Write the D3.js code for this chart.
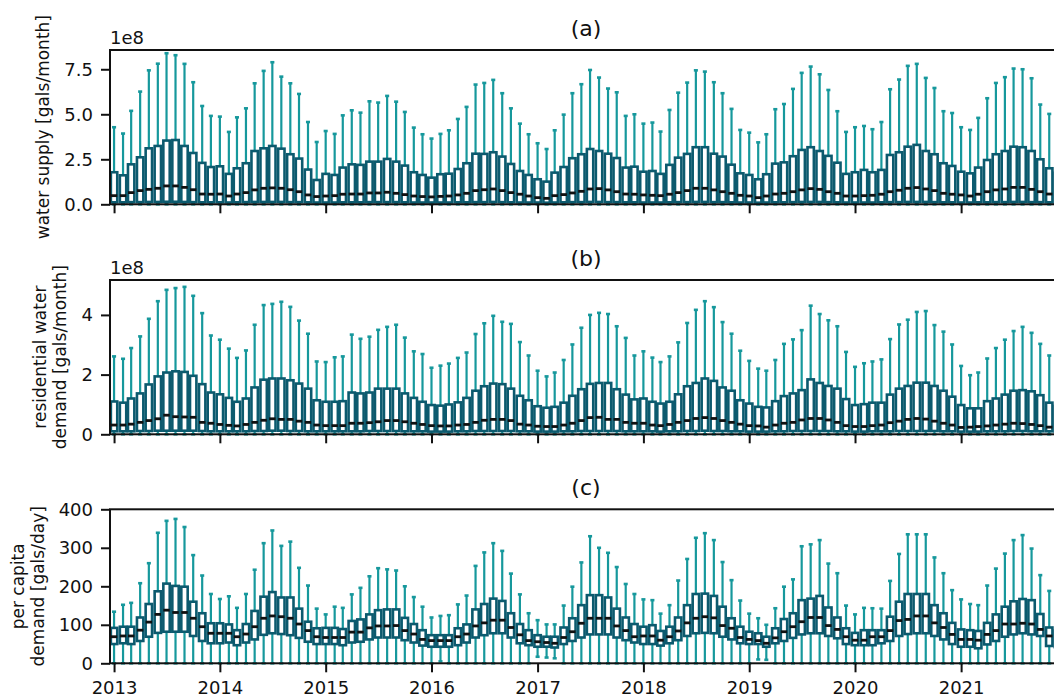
<!DOCTYPE html>
<html><head><meta charset="utf-8">
<script src="https://cdn.jsdelivr.net/npm/d3@7"></script>
<style>body{margin:0;background:#fff;} svg{display:block;} text{font-family:"DejaVu Sans",sans-serif;}</style>
</head><body>
<svg id="chart" width="1054" height="697"></svg>
<script>
// ---------- data ----------
const firstYear = 2013;
const monthCount = 108;
const yearTicks = [2013, 2014, 2015, 2016, 2017, 2018, 2019, 2020, 2021];

// (a) water supply, units of 1e8 gals/month
const supplyHi = [4.28,3.93,5.19,6.26,7.44,7.81,8.39,8.28,7.80,6.78,5.46,4.91,
 4.87,4.02,4.83,5.33,6.72,7.41,7.89,7.09,6.72,6.13,4.57,3.46,
 4.07,3.91,4.94,5.22,5.09,5.72,5.65,6.02,5.70,5.13,4.26,3.89,
 3.65,3.91,4.11,4.74,5.41,6.65,6.74,6.91,6.17,5.33,4.48,3.89,
 3.39,3.07,4.11,4.98,6.17,6.67,7.46,7.04,6.43,6.22,4.91,5.00,
 4.48,4.54,4.04,5.24,6.20,6.76,7.44,7.37,6.78,6.17,5.30,4.13,
 3.98,3.44,3.89,5.28,5.57,6.41,7.30,7.65,7.22,6.35,5.17,4.02,
 4.28,4.35,4.17,4.57,6.39,6.93,7.69,7.80,7.02,6.46,5.17,5.07,
 4.28,4.13,4.80,5.89,6.74,7.06,7.54,7.50,7.00,5.54,5.02,4.30];
const supplyQ3 = [1.78,1.61,2.22,2.61,3.11,3.24,3.54,3.57,3.24,2.85,2.30,2.07,
 2.11,1.69,2.00,2.28,2.96,3.11,3.24,3.09,2.78,2.54,1.93,1.35,
 1.69,1.63,2.04,2.22,2.19,2.37,2.37,2.52,2.37,2.15,1.78,1.63,
 1.48,1.67,1.70,1.96,2.28,2.81,2.80,2.89,2.65,2.24,1.85,1.63,
 1.39,1.26,1.76,2.07,2.56,2.78,3.07,2.96,2.81,2.57,2.04,2.09,
 1.81,1.85,1.69,2.19,2.59,2.80,3.17,3.17,2.81,2.65,2.20,1.72,
 1.63,1.39,1.67,2.26,2.33,2.67,3.02,3.17,2.96,2.69,2.31,1.69,
 1.78,1.91,1.78,1.91,2.74,2.89,3.20,3.30,2.96,2.78,2.28,2.13,
 1.81,1.72,2.04,2.46,2.78,2.96,3.20,3.17,2.96,2.50,2.00,1.75];
const supplyMed = [0.48,0.48,0.65,0.76,0.83,0.89,1.02,1.02,0.94,0.81,0.57,0.56,
 0.57,0.46,0.57,0.65,0.80,0.89,0.91,0.89,0.81,0.70,0.52,0.43,
 0.46,0.48,0.56,0.57,0.57,0.63,0.63,0.67,0.61,0.54,0.46,0.43,
 0.41,0.44,0.46,0.52,0.61,0.76,0.81,0.85,0.76,0.65,0.56,0.46,
 0.37,0.33,0.48,0.54,0.63,0.72,0.85,0.87,0.80,0.70,0.57,0.56,
 0.52,0.50,0.48,0.56,0.65,0.76,0.89,0.89,0.80,0.70,0.61,0.50,
 0.46,0.37,0.46,0.57,0.61,0.70,0.80,0.87,0.83,0.70,0.61,0.46,
 0.46,0.48,0.50,0.56,0.70,0.78,0.89,0.93,0.85,0.76,0.61,0.56,
 0.52,0.46,0.56,0.70,0.80,0.85,0.94,0.94,0.83,0.70,0.57,0.50];
const supplyQ1 = [0.11,0.11,0.12,0.12,0.13,0.13,0.14,0.14,0.13,0.12,0.11,0.11,
 0.11,0.10,0.11,0.12,0.13,0.13,0.13,0.13,0.12,0.12,0.11,0.10,
 0.10,0.10,0.11,0.11,0.11,0.12,0.12,0.12,0.12,0.11,0.10,0.10,
 0.10,0.10,0.10,0.11,0.11,0.12,0.12,0.13,0.12,0.11,0.10,0.10,
 0.10,0.09,0.10,0.11,0.12,0.12,0.13,0.13,0.12,0.12,0.11,0.11,
 0.10,0.10,0.10,0.11,0.12,0.12,0.13,0.13,0.12,0.12,0.11,0.10,
 0.10,0.09,0.10,0.11,0.11,0.12,0.13,0.13,0.13,0.12,0.11,0.10,
 0.10,0.10,0.10,0.11,0.12,0.12,0.13,0.13,0.13,0.12,0.11,0.11,
 0.10,0.10,0.11,0.11,0.12,0.12,0.13,0.13,0.12,0.12,0.11,0.10];
const supplyLo = [0,0,0,0,0,0,0,0,0,0,0,0, 0,0,0,0,0,0,0,0,0,0,0,0,
 0,0,0,0,0,0,0,0,0,0,0,0, 0,0,0,0,0,0,0,0,0,0,0,0,
 0,0,0,0,0,0,0,0,0,0,0,0, 0,0,0,0,0,0,0,0,0,0,0,0,
 0,0,0,0,0,0,0,0,0,0,0,0, 0,0,0,0,0,0,0,0,0,0,0,0,
 0,0,0,0,0,0,0,0,0,0,0,0];

// (b) residential water demand, units of 1e8 gals/month
const resHi = [2.61,2.53,2.89,3.28,3.87,4.46,4.84,4.90,4.94,4.64,4.06,3.31,
 3.17,2.87,2.56,2.81,3.67,4.33,4.37,4.44,4.27,3.81,3.37,2.44,
 2.42,2.58,2.61,3.34,3.20,3.27,3.50,3.60,3.67,3.24,2.78,2.69,
 2.23,2.30,2.37,2.56,2.74,3.36,3.72,3.97,3.77,3.70,3.09,2.64,
 2.13,1.94,2.07,2.49,3.01,3.57,4.00,4.07,4.03,3.62,3.23,2.64,
 2.78,2.57,2.42,2.61,3.08,3.73,4.17,4.46,4.26,3.76,3.37,2.80,
 2.46,2.20,2.13,2.49,3.03,3.18,3.49,4.31,4.03,3.82,3.62,2.76,
 2.26,2.38,2.44,2.51,3.19,3.68,3.84,4.10,4.13,3.66,3.44,3.01,
 2.29,1.98,2.07,2.54,2.89,3.17,3.46,3.60,3.40,3.03,2.64,2.20];
const resQ3 = [1.10,1.06,1.20,1.37,1.67,1.94,2.07,2.11,2.09,1.96,1.68,1.40,
 1.34,1.22,1.09,1.20,1.57,1.83,1.87,1.87,1.81,1.70,1.53,1.14,
 1.09,1.09,1.11,1.40,1.37,1.40,1.53,1.53,1.53,1.37,1.22,1.09,
 0.98,0.96,1.00,1.07,1.22,1.46,1.61,1.70,1.68,1.53,1.29,1.14,
 0.94,0.89,0.92,1.06,1.29,1.51,1.69,1.72,1.72,1.51,1.33,1.17,
 1.20,1.09,1.03,1.09,1.34,1.61,1.72,1.87,1.79,1.57,1.46,1.14,
 1.03,0.92,0.90,1.11,1.28,1.37,1.48,1.84,1.72,1.62,1.53,1.18,
 0.98,1.01,1.06,1.06,1.33,1.53,1.62,1.73,1.73,1.62,1.46,1.26,
 0.98,0.87,0.87,1.11,1.20,1.33,1.46,1.48,1.44,1.31,1.06,0.95];
const resMed = [0.31,0.31,0.34,0.40,0.46,0.52,0.64,0.59,0.58,0.57,0.40,0.37,
 0.33,0.30,0.28,0.33,0.40,0.47,0.52,0.50,0.50,0.44,0.40,0.31,
 0.29,0.29,0.29,0.37,0.37,0.39,0.42,0.46,0.46,0.42,0.37,0.33,
 0.29,0.28,0.28,0.31,0.33,0.40,0.47,0.50,0.50,0.46,0.34,0.31,
 0.27,0.26,0.26,0.31,0.37,0.46,0.56,0.57,0.50,0.50,0.40,0.37,
 0.37,0.31,0.29,0.33,0.40,0.46,0.53,0.56,0.53,0.46,0.40,0.34,
 0.29,0.28,0.24,0.31,0.37,0.40,0.48,0.53,0.53,0.48,0.40,0.29,
 0.26,0.26,0.29,0.31,0.39,0.44,0.50,0.53,0.51,0.44,0.37,0.31,
 0.23,0.24,0.26,0.28,0.31,0.34,0.37,0.36,0.33,0.29,0.24,0.22];
const resQ1 = [0.10,0.10,0.10,0.11,0.11,0.12,0.12,0.12,0.12,0.12,0.11,0.10,
 0.10,0.10,0.10,0.10,0.11,0.11,0.12,0.12,0.11,0.11,0.10,0.10,
 0.10,0.10,0.10,0.10,0.10,0.11,0.11,0.11,0.11,0.10,0.10,0.10,
 0.09,0.09,0.09,0.10,0.10,0.11,0.11,0.11,0.11,0.11,0.10,0.10,
 0.09,0.09,0.09,0.10,0.10,0.11,0.11,0.11,0.11,0.11,0.10,0.10,
 0.10,0.10,0.09,0.10,0.10,0.11,0.11,0.12,0.11,0.11,0.10,0.10,
 0.09,0.09,0.09,0.10,0.10,0.11,0.11,0.11,0.11,0.11,0.10,0.10,
 0.09,0.09,0.10,0.10,0.10,0.11,0.11,0.11,0.11,0.11,0.10,0.10,
 0.09,0.09,0.09,0.10,0.10,0.10,0.11,0.11,0.10,0.10,0.10,0.09];
const resLo = [0,0,0,0,0,0,0,0,0,0,0,0, 0,0,0,0,0,0,0,0,0,0,0,0,
 0,0,0,0,0,0,0,0,0,0,0,0, 0,0,0,0,0,0,0,0,0,0,0,0,
 0,0,0,0,0,0,0,0,0,0,0,0, 0,0,0,0,0,0,0,0,0,0,0,0,
 0,0,0,0,0,0,0,0,0,0,0,0, 0,0,0,0,0,0,0,0,0,0,0,0,
 0,0,0,0,0,0,0,0,0,0,0,0];

// (c) per capita demand, gals/day
const pcHi = [134,152,157,208,260,339,370,375,354,281,228,180,
 167,174,144,180,243,312,345,305,316,248,202,142,
 127,147,144,179,196,226,247,244,241,200,172,147,
 119,123,125,153,176,253,288,312,292,233,179,130,
 112,101,101,150,199,262,330,300,287,250,206,180,
 166,164,129,151,215,271,326,338,320,263,216,163,
 129,117,100,143,199,218,304,309,320,259,234,150,
 127,144,143,142,214,284,335,335,335,275,234,190,
 166,154,151,202,246,285,320,333,298,229,188,150];
const pcQ3 = [92,95,95,119,154,187,207,201,199,160,130,104,
 104,101,86,102,136,173,185,171,171,142,108,91,
 92,92,89,110,114,127,138,140,140,118,102,86,
 73,73,73,91,101,140,154,168,162,130,102,86,
 73,69,69,93,117,151,177,177,171,142,119,102,
 95,99,84,95,119,151,180,181,175,147,117,95,
 82,78,69,91,115,130,164,168,175,145,119,91,
 79,86,86,86,121,160,180,180,180,151,130,105,
 88,86,84,105,127,147,161,167,164,128,93,85];
const pcMed = [69,71,71,86,107,127,138,132,132,117,95,78,
 78,78,69,76,95,117,123,121,117,102,85,69,
 67,67,67,81,81,92,97,97,98,85,76,62,
 59,59,59,69,76,97,105,112,112,93,74,59,
 56,54,52,67,82,104,117,117,117,97,85,69,
 71,71,60,69,84,105,117,121,118,98,91,67,
 62,59,52,66,82,95,108,119,119,98,88,69,
 60,60,69,69,85,111,114,123,123,105,93,75,
 62,62,60,75,85,102,102,104,102,88,71,62];
const pcQ1 = [50,52,50,58,69,79,82,82,82,71,58,52,
 52,54,47,54,62,74,78,76,73,66,56,50,
 50,50,47,54,56,62,67,67,67,60,54,46,
 43,43,43,47,54,67,73,78,78,67,52,47,
 43,43,41,50,58,67,75,75,75,67,60,54,
 50,50,46,52,60,71,78,79,78,69,62,52,
 50,50,43,52,58,66,75,78,78,71,65,50,
 47,47,47,52,58,71,76,78,78,71,62,50,
 43,43,39,49,58,69,75,78,75,71,45,42];
const pcLo = [0,0,0,0,0,0,0,0,0,0,0,0, 0,0,0,0,0,0,0,0,0,0,0,0,
 0,0,0,0,0,0,0,0,0,0,0,0, 0,5,0,0,0,0,0,0,0,0,0,0,
 17,15,13,0,0,0,0,0,0,0,0,0, 0,0,0,0,0,0,0,0,0,0,0,0,
 0,10,9,0,0,0,0,0,0,0,0,0, 0,0,0,0,0,0,0,0,0,0,0,0,
 0,0,0,0,0,0,0,0,0,0,0,0];

// ---------- drawing ----------
const DAY = 86400000;
const months = d3.range(monthCount).map(i => new Date(Date.UTC(firstYear, i, 1)));
const svg = d3.select("#chart");

const x = d3.scaleUtc()
  .domain([new Date(Date.UTC(2012, 11, 18)), new Date(Date.UTC(2021, 11, 15))])
  .range([110, 1062]);
const plotL = 110, plotR = 1062;
const shift = (d, days) => x(new Date(+d + days * DAY));

const whiskerColor = "#16989c";
const boxColor = "#0c5a6e";
const medianColor = "#111111";
const FS = 18;
const LFS = 17;

const panels = [
  {title: "(a)", hi: supplyHi, q3: supplyQ3, med: supplyMed, q1: supplyQ1, lo: supplyLo,
   domain: [0, 8.57], range: [204.3, 50], ticks: [0, 2.5, 5, 7.5], fmt: d3.format(".1f"),
   offset: "1e8", label: ["water supply [gals/month]"], labelX: 49, showX: false},
  {title: "(b)", hi: resHi, q3: resQ3, med: resMed, q1: resQ1, lo: resLo,
   domain: [0, 5.17], range: [434.3, 280], ticks: [0, 2, 4], fmt: d3.format("d"),
   offset: "1e8", label: ["residential water", "demand [gals/month]"], labelX: 46, showX: false},
  {title: "(c)", hi: pcHi, q3: pcQ3, med: pcMed, q1: pcQ1, lo: pcLo,
   domain: [0, 400], range: [663.3, 509.3], ticks: [0, 100, 200, 300, 400], fmt: d3.format("d"),
   offset: null, label: ["per capita", "demand [gals/day]"], labelX: 24, showX: true}
];

const boxHalf = 11, capHalf = 7;

panels.forEach(p => {
  const y = d3.scaleLinear().domain(p.domain).range(p.range);
  const g = svg.append("g");
  const rows = months.map((d, i) => ({d, hi: p.hi[i], q3: p.q3[i], med: p.med[i], q1: p.q1[i], lo: p.lo[i]}));

  // whiskers
  g.append("g").selectAll("line").data(rows).join("line")
    .attr("x1", r => x(r.d)).attr("x2", r => x(r.d))
    .attr("y1", r => y(r.q3)).attr("y2", r => y(r.hi))
    .attr("stroke", whiskerColor).attr("stroke-width", 2.2);
  g.append("g").selectAll("line").data(rows).join("line")
    .attr("x1", r => x(r.d)).attr("x2", r => x(r.d))
    .attr("y1", r => y(r.q1)).attr("y2", r => y(r.lo))
    .attr("stroke", whiskerColor).attr("stroke-width", 2.2);
  // caps
  ["hi", "lo"].forEach(k => {
    g.append("g").selectAll("line").data(rows).join("line")
      .attr("x1", r => shift(r.d, -capHalf)).attr("x2", r => shift(r.d, capHalf))
      .attr("y1", r => y(r[k])).attr("y2", r => y(r[k]))
      .attr("stroke", whiskerColor).attr("stroke-width", 2.6);
  });
  // boxes
  g.append("g").selectAll("rect").data(rows).join("rect")
    .attr("x", r => shift(r.d, -boxHalf))
    .attr("width", r => shift(r.d, boxHalf) - shift(r.d, -boxHalf))
    .attr("y", r => y(r.q3))
    .attr("height", r => y(r.q1) - y(r.q3))
    .attr("fill", "none").attr("stroke", boxColor).attr("stroke-width", 2.6);
  // medians
  g.append("g").selectAll("line").data(rows).join("line")
    .attr("x1", r => shift(r.d, -boxHalf)).attr("x2", r => shift(r.d, boxHalf))
    .attr("y1", r => y(r.med)).attr("y2", r => y(r.med))
    .attr("stroke", medianColor).attr("stroke-width", 2.8);

  // spines
  const top = p.range[1], bot = p.range[0];
  g.append("rect").attr("x", plotL).attr("y", top).attr("width", plotR - plotL).attr("height", bot - top)
    .attr("fill", "none").attr("stroke", "#111").attr("stroke-width", 2);

  // y axis
  const ya = g.append("g").attr("transform", `translate(${plotL},0)`)
    .call(d3.axisLeft(y).tickValues(p.ticks).tickFormat(p.fmt).tickSize(9).tickPadding(8));
  ya.select(".domain").remove();
  ya.selectAll("line").attr("stroke", "#111").attr("stroke-width", 2);
  ya.selectAll("text").attr("font-size", FS).attr("fill", "#111").attr("font-family", "DejaVu Sans");

  // x axis
  const xa = g.append("g").attr("transform", `translate(0,${bot})`)
    .call(d3.axisBottom(x).tickValues(yearTicks.map(yy => new Date(Date.UTC(yy, 0, 1))))
      .tickFormat(p.showX ? d3.utcFormat("%Y") : () => "").tickSize(9).tickPadding(9));
  xa.select(".domain").remove();
  xa.selectAll("line").attr("stroke", "#111").attr("stroke-width", 2);
  xa.selectAll("text").attr("font-size", FS).attr("fill", "#111").attr("font-family", "DejaVu Sans");

  // title
  svg.append("text").attr("x", (plotL + plotR) / 2).attr("y", top - 14)
    .attr("text-anchor", "middle").attr("font-size", 22).attr("fill", "#111").text(p.title);
  // offset text
  if (p.offset) {
    svg.append("text").attr("x", plotL).attr("y", top - 6)
      .attr("font-size", FS).attr("fill", "#111").text(p.offset);
  }
  // y label
  const lab = svg.append("text")
    .attr("transform", `translate(${p.labelX},${(top + bot) / 2}) rotate(-90)`)
    .attr("text-anchor", "middle").attr("font-size", LFS).attr("fill", "#111");
  p.label.forEach((t, i) => lab.append("tspan").attr("x", 0).attr("dy", i === 0 ? 0 : 20).text(t));
});
</script>
</body></html>
